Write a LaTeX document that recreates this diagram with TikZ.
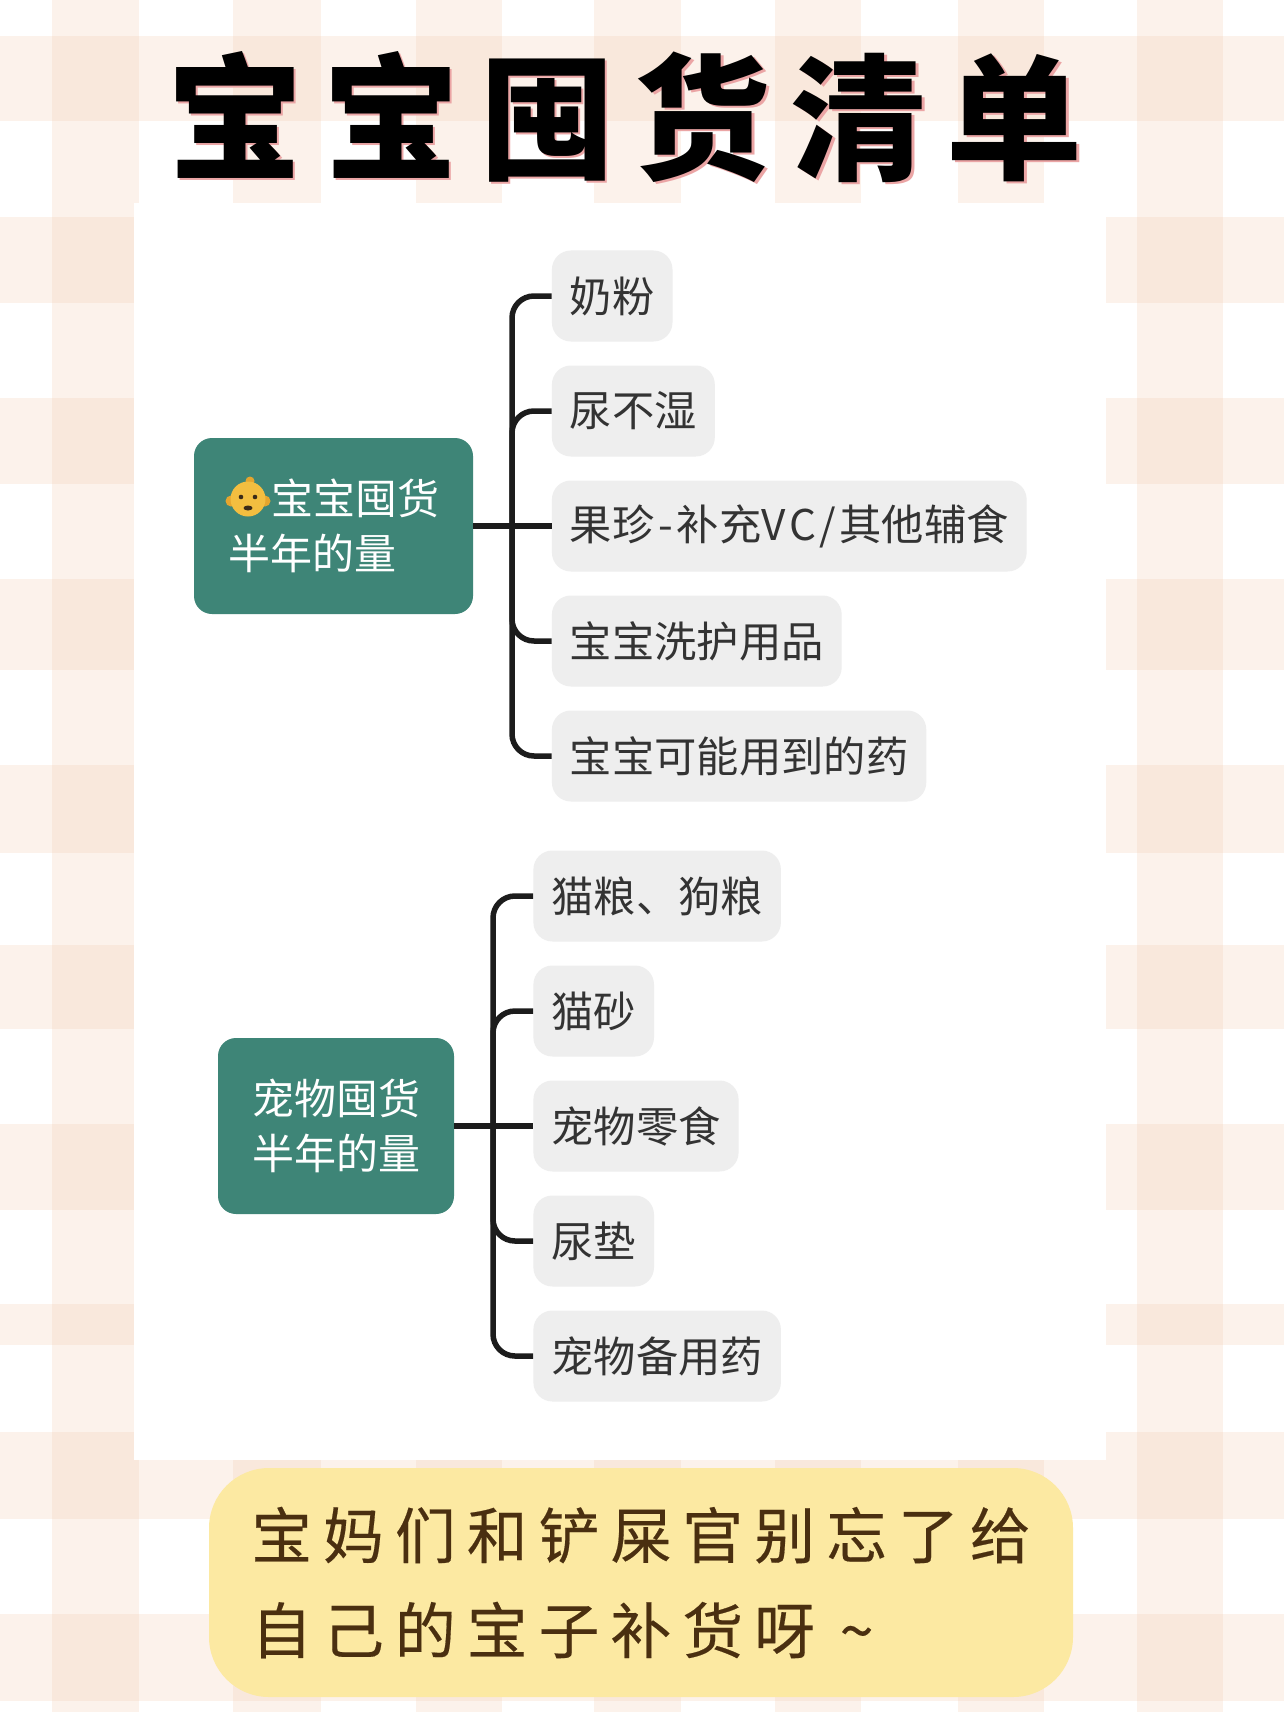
\documentclass[tikz,border=0pt]{standalone}
\usepackage{fontspec}
\setmainfont{Noto Sans CJK SC}
\newfontfamily\titlefont[LetterSpace=14.6]{Noto Sans CJK SC}
\newfontfamily\notefont[LetterSpace=18.2,FakeBold=0.3]{Noto Sans CJK SC}
\usetikzlibrary{positioning}
\definecolor{bandtint}{HTML}{F3C9AC}
\definecolor{rootgreen}{HTML}{3E8577}
\definecolor{leafgray}{HTML}{EEEEEE}
\definecolor{linedark}{HTML}{1C1C1C}
\definecolor{notefill}{HTML}{FCE9A2}
\definecolor{notetext}{HTML}{4A2F10}
\definecolor{babyskin}{HTML}{F3BE40}
\definecolor{babyear}{HTML}{E5A52E}
\definecolor{babyeye}{HTML}{3A2A18}
\definecolor{titleshade}{HTML}{EBA5A5}
\tikzset{
    rootbox/.style={fill=rootgreen, rounded corners=9pt, text=white, minimum height=88pt, inner sep=0pt, font=\fontsize{21}{27.5}\selectfont},
    leafbox/.style={fill=leafgray, rounded corners=9.5pt, text=black!80, minimum height=45.5pt, inner xsep=9pt, inner ysep=0pt, font=\fontsize{21.15}{25}\selectfont},
    branch/.style={linedark, line width=2.75pt, rounded corners=11pt},
    titletext/.style={inner sep=0pt, font=\titlefont\bfseries\fontsize{68}{80}\selectfont}
}
\begin{document}
\begin{tikzpicture}[x=0.5pt,y=-0.5pt]
    \useasboundingbox (0,0) rectangle (1284,1712);
    \fill[white] (0,0) rectangle (1284,1712);
    \foreach \xa/\xb in {52/139,233/321,416/502,594/681,775/861,958/1044,1137/1223}
        \fill[bandtint,opacity=.23] (\xa,0) rectangle (\xb,1712);
    \foreach \ya/\yb in {36/121,217/303,398/484,579/670,765/853,945/1029,1124/1210,1304/1345,1432/1519,1614/1701}
        \fill[bandtint,opacity=.23] (0,\ya) rectangle (1284,\yb);
    \fill[white] (134,203) rectangle (1106,1460);

    \node[titletext, text=titleshade] (titleshadow) at (627.5,119.5) {宝宝囤货清单};
    \node[titletext] (title) at (625,117) {宝宝囤货清单};

    \node[rootbox, minimum width=139.5pt, align=left] (baby) at (333.5,526) {\hspace{21.5pt}宝宝囤货\\半年的量};
    \fill[babyear] (231,501) circle (5.5);
    \fill[babyear] (265,501) circle (5.5);
    \fill[babyear] (250,481) circle (4.5);
    \fill[babyskin] (248,499) circle (17.5);
    \fill[babyeye] (241,497) circle (2.3);
    \fill[babyeye] (255,497) circle (2.3);
    \fill[babyeye] (248,508) ellipse (4.5 and 2.5);

    \node[leafbox, anchor=west] (b3) at (551.5,526) {果珍\hspace{1.9pt}-\hspace{1.9pt}补充V\hspace{1.7pt}C\hspace{1.7pt}/\hspace{1.7pt}其他辅食};
    \node[leafbox, above=11.6pt of b3.north west, anchor=south west] (b2) {尿不湿};
    \node[leafbox, above=11.6pt of b2.north west, anchor=south west] (b1) {奶粉};
    \node[leafbox, below=11.6pt of b3.south west, anchor=north west] (b4) {宝宝洗护用品};
    \node[leafbox, below=11.6pt of b4.south west, anchor=north west] (b5) {宝宝可能用到的药};
    \coordinate (bs) at (512,526);
    \draw[branch] (baby.east) -- (b3.west);
    \draw[branch] (b1.west) -| (bs);
    \draw[branch] (b2.west) -| (bs);
    \draw[branch] (b4.west) -| (bs);
    \draw[branch] (b5.west) -| (bs);

    \node[rootbox, minimum width=118pt, align=center] (pet) at (336,1126) {宠物囤货\\半年的量};
    \node[leafbox, anchor=west] (p3) at (533,1126) {宠物零食};
    \node[leafbox, above=11.6pt of p3.north west, anchor=south west] (p2) {猫砂};
    \node[leafbox, above=11.6pt of p2.north west, anchor=south west] (p1) {猫粮、狗粮};
    \node[leafbox, below=11.6pt of p3.south west, anchor=north west] (p4) {尿垫};
    \node[leafbox, below=11.6pt of p4.south west, anchor=north west] (p5) {宠物备用药};
    \coordinate (ps) at (493,1126);
    \draw[branch] (pet.east) -- (p3.west);
    \draw[branch] (p1.west) -| (ps);
    \draw[branch] (p2.west) -| (ps);
    \draw[branch] (p4.west) -| (ps);
    \draw[branch] (p5.west) -| (ps);

    \node[fill=notefill, rounded corners=30pt, minimum width=432pt, minimum height=114.5pt, inner sep=0pt, text=notetext, align=left, font=\notefont\fontsize{30.4}{47.5}\selectfont] (note) at (641,1582.5) {宝妈们和铲屎官别忘了给\\自己的宝子补货呀 \char"7E};
\end{tikzpicture}
\end{document}
